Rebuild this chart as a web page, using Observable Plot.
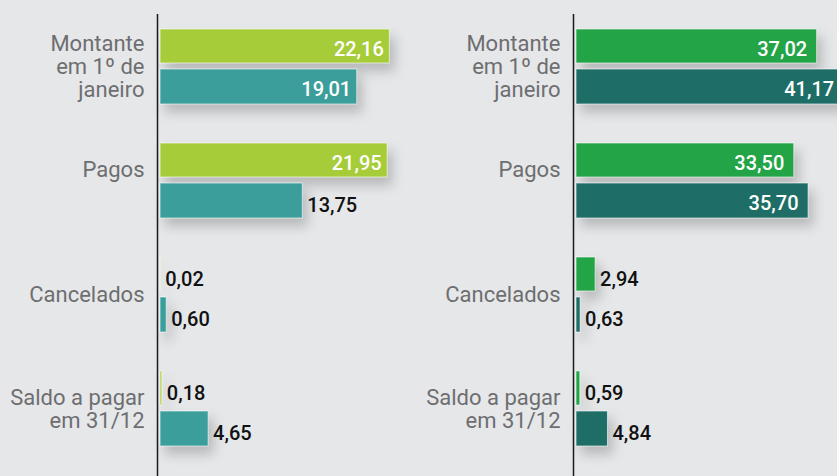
<!DOCTYPE html>
<html><head><meta charset="utf-8">
<script src="https://cdn.jsdelivr.net/npm/d3@7"></script>
<script src="https://cdn.jsdelivr.net/npm/@observablehq/plot@0.6"></script>
<style>
html,body{margin:0;padding:0;background:#e6e7e9;overflow:hidden}
#chart{display:flex;width:837px;height:476px}
#chart svg{flex:none}
g[aria-label="bar"] rect{filter:drop-shadow(5px 8px 6px rgba(0,0,0,0.2))}
</style></head><body><div id="chart"></div>
<script>
// Categories (line breaks as in the original labels)
const categories = ["Montante\nem 1º de\njaneiro", "Pagos\n", "Cancelados", "Saldo a pagar\nem 31/12"];
// Left panel
const leftFirst = [22.16, 21.95, 0.02, 0.18];
const leftSecond = [19.01, 13.75, 0.60, 4.65];
// Right panel
const rightFirst = [37.02, 33.50, 2.94, 0.59];
const rightSecond = [41.17, 35.70, 0.63, 4.84];

const fmt = d3.formatLocale({decimal: ",", thousands: ".", grouping: [3], currency: ["", "€"]}).format(".2f");

function panel({first, second, colors, width, marginLeft, xMax, insideDx}) {
  const rows = s => categories.map((c, i) => ({category: c, value: s[i]}));
  const a = rows(first), b = rows(second);
  const max = d3.max([...first, ...second]);
  const inside = d => d.value >= 0.7 * max;
  const outside = d => !inside(d);
  const tb = {x: "value", y: "category", text: d => fmt(d.value), fontSize: 20, fontWeight: 500};
  const barStyle = {x: "value", y: "category", stroke: "#ffffff", strokeOpacity: 0.6, strokeWidth: 1};
  return Plot.plot({
    width, height: 476, marginLeft, marginRight: 0, marginTop: 14, marginBottom: 0,
    style: {background: "transparent", fontFamily: "Roboto, sans-serif", fontSize: "22px", color: "#6d6e70", overflow: "hidden"},
    x: {domain: [0, xMax], axis: null},
    y: {domain: categories, paddingInner: 0.346, paddingOuter: 0.1875, align: 0.326, axis: null},
    marks: [
      Plot.barX(a, {...barStyle, fill: colors[0], insetBottom: 41}),
      Plot.barX(b, {...barStyle, fill: colors[1], insetTop: 40}),
      Plot.text(a.filter(inside), {...tb, textAnchor: "end", dx: -insideDx, dy: -17.5, fill: "#ffffff"}),
      Plot.text(a.filter(outside), {...tb, textAnchor: "start", dx: 4.5, dy: -15.5, fill: "#111111"}),
      Plot.text(b.filter(inside), {...tb, textAnchor: "end", dx: -insideDx, dy: 23, fill: "#ffffff"}),
      Plot.text(b.filter(outside), {...tb, textAnchor: "start", dx: 4.5, dy: 25, fill: "#111111"}),
      Plot.ruleX([0], {dx: -3, stroke: "#1a1a1a", strokeWidth: 1.5}),
      Plot.axisY({tickSize: 0, tickPadding: 16, label: null, fontSize: 22, lineHeight: 1.05})
    ]
  });
}

const chart = document.getElementById("chart");
chart.append(panel({first: leftFirst, second: leftSecond, colors: ["#a6cd39", "#3c9e9b"], width: 418, marginLeft: 160, xMax: 24.93, insideDx: 6}));
chart.append(panel({first: rightFirst, second: rightSecond, colors: ["#22a447", "#1e6e67"], width: 419, marginLeft: 158, xMax: 40.15, insideDx: 10}));
</script></body></html>
